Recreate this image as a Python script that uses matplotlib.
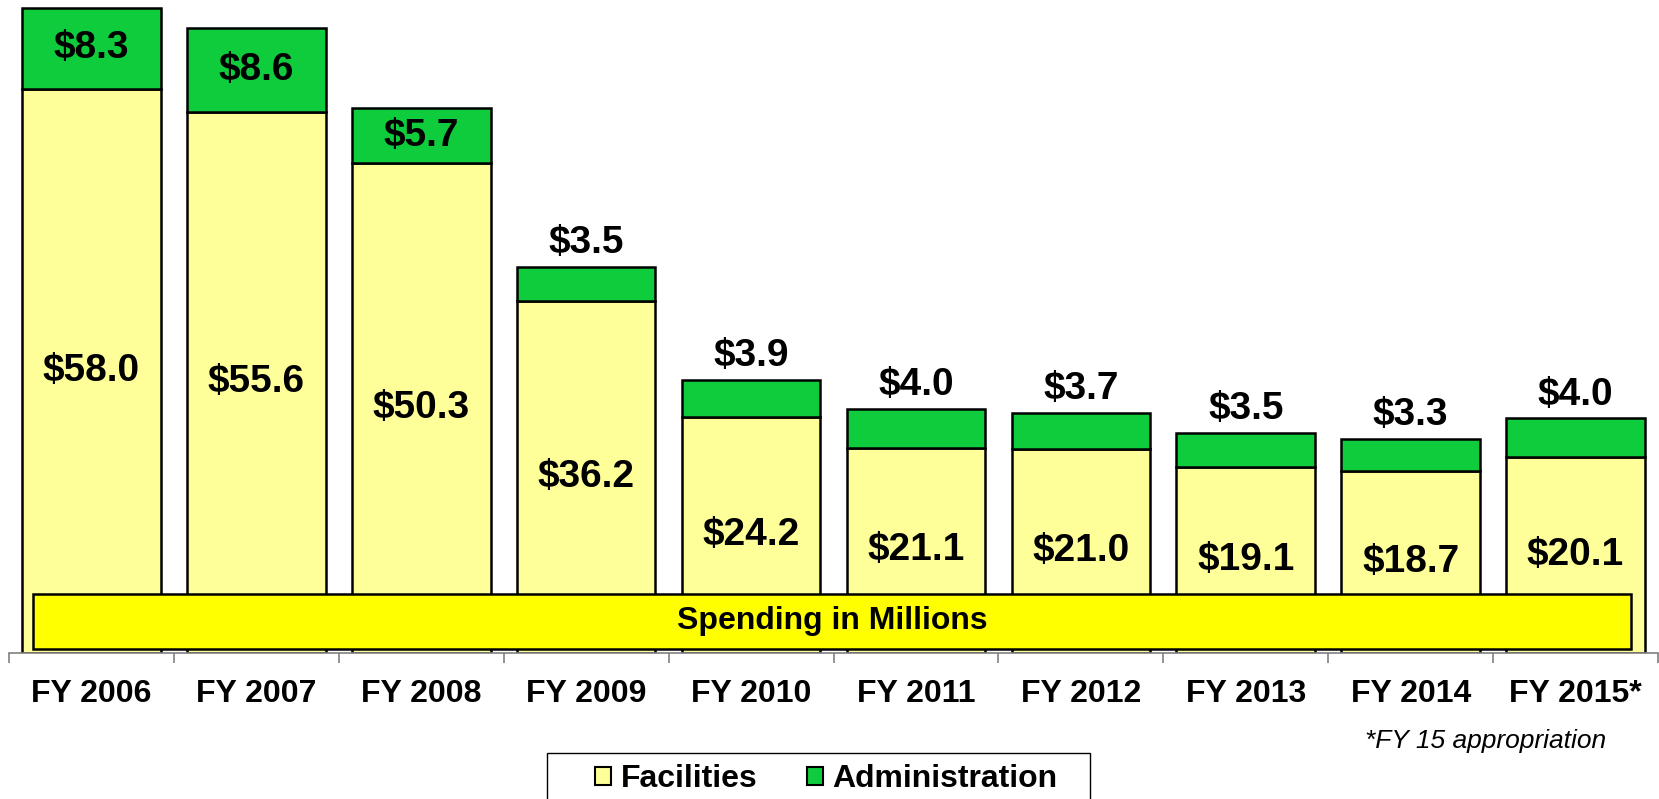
import numpy as np
import matplotlib.pyplot as plt
from matplotlib.patches import Rectangle, Patch

# ---------------- data ----------------
years = ["FY 2006", "FY 2007", "FY 2008", "FY 2009", "FY 2010",
         "FY 2011", "FY 2012", "FY 2013", "FY 2014", "FY 2015*"]
facilities = [58.0, 55.6, 50.3, 36.2, 24.2, 21.1, 21.0, 19.1, 18.7, 20.1]
administration = [8.3, 8.6, 5.7, 3.5, 3.9, 4.0, 3.7, 3.5, 3.3, 4.0]
admin_inside = [True, True, True, False, False, False, False, False, False, False]

c_fac = "#FFFF99"
c_adm = "#0FCC3C"

plt.rcParams['font.family'] = ['Liberation Sans', 'DejaVu Sans']

fig = plt.figure(figsize=(16.59, 7.99), dpi=100)
W, H = 1659, 799
ax = fig.add_axes([9 / W, (H - 653) / H, (1658 - 9) / W, 653 / H])

x = np.arange(len(years))
fac = np.array(facilities)
adm = np.array(administration)

ax.bar(x, fac, width=0.84, color=c_fac, edgecolor="black", linewidth=1.8, label="Facilities", zorder=2)
ax.bar(x, adm, bottom=fac, width=0.84, color=c_adm, edgecolor="black", linewidth=1.8,
       label="Administration", zorder=2)

ax.set_xlim(-0.5, len(years) - 0.5)
ax.set_ylim(0, 67.1)

# labels
for i in range(len(years)):
    ax.text(x[i], fac[i] / 2, "$%.1f" % fac[i], ha="center", va="center",
            fontsize=28, fontweight="bold", zorder=4)
    if admin_inside[i]:
        ax.text(x[i], fac[i] + adm[i] / 2, "$%.1f" % adm[i], ha="center", va="center",
                fontsize=28, fontweight="bold", zorder=4)
    else:
        ax.annotate("$%.1f" % adm[i], (x[i], fac[i] + adm[i]), xytext=(0, 10),
                    textcoords="offset points", ha="center", va="baseline",
                    fontsize=28, fontweight="bold", zorder=4)

# spending banner
ax.add_patch(Rectangle((0.01455, 0.0061), 0.9836 - 0.01455, 0.0904 - 0.0061,
                       transform=ax.transAxes, facecolor="#FFFF00", edgecolor="black",
                       linewidth=1.8, zorder=3, clip_on=False))
ax.text((0.01455 + 0.9836) / 2, (0.0061 + 0.0904) / 2, "Spending in Millions",
        transform=ax.transAxes, ha="center", va="center", fontsize=23,
        fontweight="bold", zorder=4)

# axes styling
for s in ["top", "right", "left"]:
    ax.spines[s].set_visible(False)
ax.spines["bottom"].set_color("#808080")
ax.spines["bottom"].set_linewidth(1.2)
ax.set_yticks([])
ax.set_xticks(x)
ax.set_xticklabels(years, fontsize=23, fontweight="bold")
ax.set_xticks(np.arange(-0.5, len(years)), minor=True)
ax.tick_params(axis="x", which="major", length=0, pad=19)
ax.tick_params(axis="x", which="minor", length=7, color="#808080", width=1.2)

fig.text(1606 / W, 1 - 748 / H, "*FY 15 appropriation", ha="right", va="baseline",
         fontsize=19, style="italic")

# legend: frame drawn by hand so it runs off the bottom like the original
fig.patches.append(Rectangle((547 / W, -0.05), (1090 - 547) / W, 0.05 + (H - 753) / H,
                             transform=fig.transFigure, facecolor="white",
                             edgecolor="black", linewidth=1.0))
handles = [Patch(facecolor=c_fac, edgecolor="black", linewidth=1.5, label="Facilities"),
           Patch(facecolor=c_adm, edgecolor="black", linewidth=1.5, label="Administration")]
leg = fig.legend(handles=handles, loc="upper left", bbox_to_anchor=(595 / W, 1 - 764 / H),
                 ncol=2, prop={"weight": "bold", "size": 23}, frameon=False,
                 borderaxespad=0, borderpad=0, handlelength=0.5, handleheight=0.5,
                 handletextpad=0.3, columnspacing=1.55)

fig.savefig("out.png", dpi=100)
